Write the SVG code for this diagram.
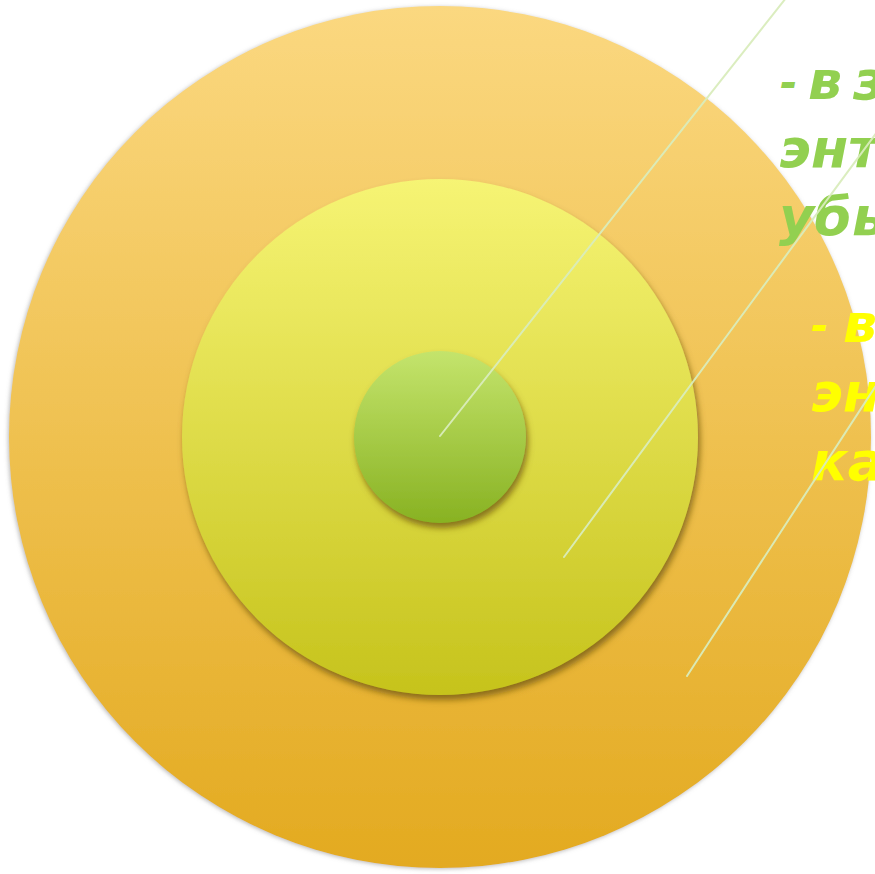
<svg xmlns="http://www.w3.org/2000/svg" width="875" height="874" viewBox="0 0 875 874">
<defs>
<linearGradient id="gOuter" x1="0" y1="0" x2="0" y2="1">
<stop offset="0" stop-color="#fbd880"/>
<stop offset="1" stop-color="#e3aa20"/>
</linearGradient>
<linearGradient id="gMid" x1="0" y1="0" x2="0" y2="1">
<stop offset="0" stop-color="#f6f474"/>
<stop offset="1" stop-color="#c6c31c"/>
</linearGradient>
<linearGradient id="gIn" x1="0" y1="0" x2="0" y2="1">
<stop offset="0" stop-color="#c4e46c"/>
<stop offset="1" stop-color="#88b222"/>
</linearGradient>
<filter id="shOuter" x="-10%" y="-10%" width="120%" height="120%">
<feGaussianBlur in="SourceAlpha" stdDeviation="2" result="b"/>
<feOffset in="b" dx="-1" dy="1" result="o"/>
<feFlood flood-color="#8a8a8a" flood-opacity="0.6"/>
<feComposite operator="in" in2="o"/>
<feMerge><feMergeNode/><feMergeNode in="SourceGraphic"/></feMerge>
</filter>
<filter id="shIn" x="-10%" y="-10%" width="125%" height="125%">
<feGaussianBlur in="SourceAlpha" stdDeviation="3" result="b"/>
<feOffset in="b" dx="2" dy="5" result="o"/>
<feFlood flood-color="#6e5510" flood-opacity="0.75"/>
<feComposite operator="in" in2="o"/>
<feMerge><feMergeNode/><feMergeNode in="SourceGraphic"/></feMerge>
</filter>
<style>
.lbl{font-family:"DejaVu Sans",Verdana,sans-serif;font-weight:bold;font-style:italic;font-size:54px}
.dash{font-size:42px}
.green{fill:#92d050}
.yellow{fill:#ffff00}
.conn{stroke:#d9ecbc;stroke-width:2;stroke-linecap:round;fill:none;opacity:0.95}
</style>
</defs>
<g id="outer"><circle cx="440" cy="437" r="431" fill="url(#gOuter)" filter="url(#shOuter)"/></g>
<g id="middle"><circle cx="440" cy="437" r="258" fill="url(#gMid)" filter="url(#shIn)"/></g>
<g id="inner"><circle cx="440" cy="437" r="86" fill="url(#gIn)" filter="url(#shIn)"/></g>
<g id="label-green" class="lbl green">
<text x="780" y="97"><tspan class="dash">-</tspan><tspan x="808" y="99">в</tspan><tspan x="853">з</tspan></text>
<text x="779" y="167">энт</text>
<text x="779" y="235">убы</text>
</g>
<g id="label-yellow" class="lbl yellow">
<text x="811" y="340"><tspan class="dash">-</tspan><tspan x="843" y="342">в</tspan></text>
<text x="811" y="411">эн</text>
<text x="811" y="480">ка</text>
</g>
<g id="connectors">
<line class="conn" x1="440" y1="436" x2="786" y2="-2"/>
<line class="conn" x1="564" y1="557" x2="877" y2="132"/>
<line class="conn" x1="687" y1="676" x2="877" y2="384"/>
</g>
</svg>
